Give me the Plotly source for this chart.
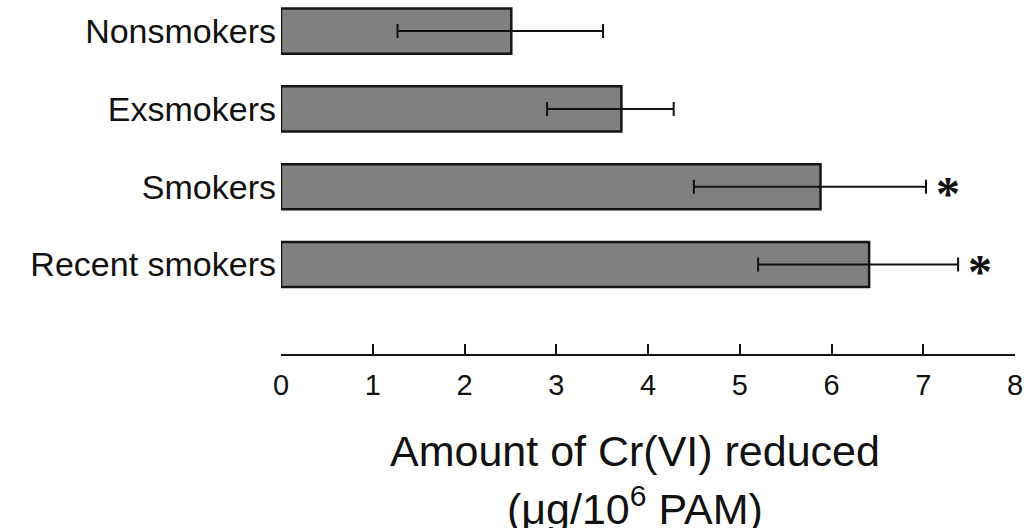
import plotly.graph_objects as go

categories = ["Nonsmokers", "Exsmokers", "Smokers", "Recent smokers"]
values = [2.51, 3.71, 5.88, 6.41]
err_minus = [1.24, 0.81, 1.38, 1.21]
err_plus = [1.00, 0.57, 1.15, 0.97]
significant = [False, False, True, True]
tick_vals = [0, 1, 2, 3, 4, 5, 6, 7, 8]
title_lines = ["Amount of Cr(VI) reduced", "(μg/10<sup>6</sup> PAM)"]

FONT = "Liberation Sans, Arial, sans-serif"

fig = go.Figure()
fig.add_trace(go.Bar(
    y=categories, x=values, orientation="h", width=0.58,
    marker=dict(color="#808080", line=dict(color="#151515", width=2.5)),
    error_x=dict(type="data", symmetric=False, array=err_plus, arrayminus=err_minus,
                 color="#111111", thickness=2, width=7),
    showlegend=False,
))

for c, v, p, s in zip(categories, values, err_plus, significant):
    if s:
        fig.add_annotation(x=v + p, y=c, xref="x", yref="y", text="<b>*</b>",
                           showarrow=False, xanchor="left", yanchor="middle",
                           xshift=8, yshift=-7,
                           font=dict(family="Liberation Serif, serif", size=48, color="#111111"))

# axis title, two lines placed separately (paper y below plot area)
for line, ypos in zip(title_lines, [-0.275, -0.428]):
    fig.add_annotation(x=0.482, y=ypos, xref="paper", yref="paper", text=line,
                       showarrow=False, xanchor="center", yanchor="middle",
                       font=dict(family=FONT, size=43, color="#111111"))

fig.update_layout(
    width=1032, height=528,
    margin=dict(l=281, r=17, t=0, b=174),
    paper_bgcolor="white", plot_bgcolor="white",
    bargap=0.42,
    font=dict(family=FONT, color="#111111"),
    xaxis=dict(range=[0, 8], tickvals=tick_vals, ticks="inside", ticklen=10, tickwidth=2,
               tickcolor="#111111", showline=True, linecolor="#111111", linewidth=2,
               showgrid=False, zeroline=False, tickfont=dict(size=29, family=FONT),
               ticklabelstandoff=4),
    yaxis=dict(categoryorder="array", categoryarray=list(reversed(categories)),
               range=[-1.15, 3.40], showline=False, showgrid=False, zeroline=False,
               ticks="", tickfont=dict(size=34, family=FONT), ticklabelstandoff=4),
)

fig.write_html("out.html", config={"displayModeBar": False},
               post_script="document.body.style.margin='0';document.body.style.padding='0';")
